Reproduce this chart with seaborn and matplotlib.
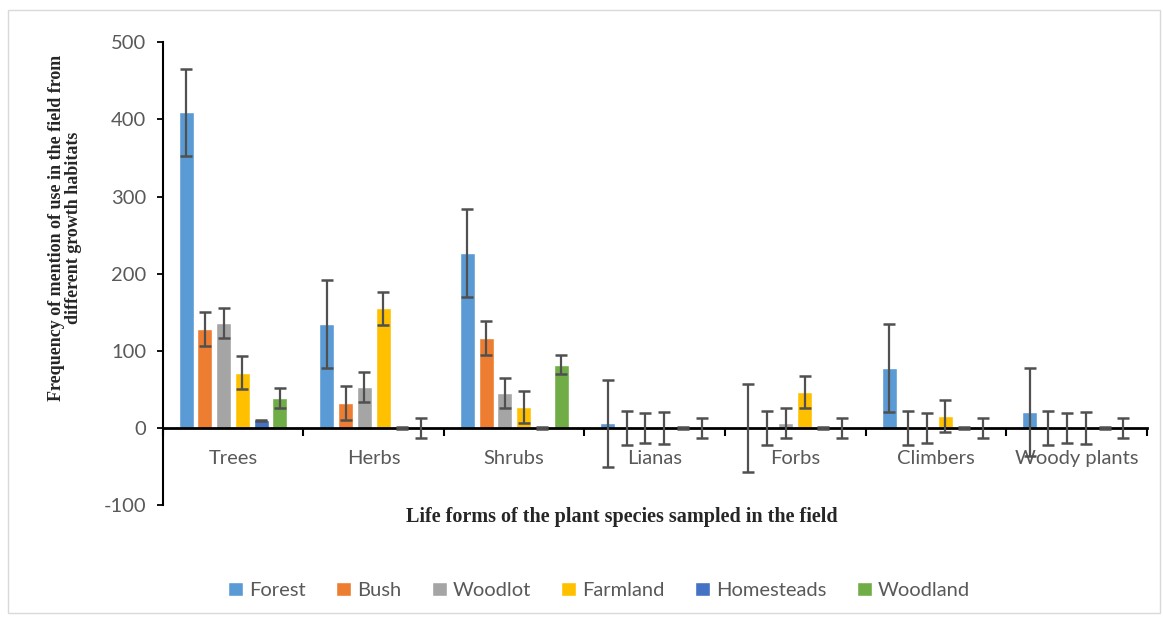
import numpy as np
import pandas as pd
import matplotlib
matplotlib.use("Agg")
import matplotlib.pyplot as plt
import seaborn as sns
from matplotlib.patches import Rectangle

# ---------------------------------------------------------------
# data
# ---------------------------------------------------------------
life_forms = ["Trees", "Herbs", "Shrubs", "Lianas", "Forbs", "Climbers", "Woody plants"]
habitats = ["Forest", "Bush", "Woodlot", "Farmland", "Homesteads", "Woodland"]

forest = [409, 135, 227, 6, 0, 78, 21]
bush = [128, 32, 117, 0, 0, 0, 0]
woodlot = [136, 53, 45, 0, 7, 0, 0]
farmland = [72, 155, 27, 0, 47, 16, 0]
homesteads = [10, 0, 0, 0, 0, 0, 0]
woodland = [39, 0, 82, 0, 0, 0, 0]

# error per habitat (same for every life form)
err_forest = 56.5
err_bush = 22
err_woodlot = 19.5
err_farmland = 21
err_homesteads = 1
err_woodland = 12.5

colors = ["#5B9BD5", "#ED7D31", "#A5A5A5", "#FFC000", "#4472C4", "#70AD47"]

series = [forest, bush, woodlot, farmland, homesteads, woodland]
errors = [err_forest, err_bush, err_woodlot, err_farmland, err_homesteads, err_woodland]

rows = []
for h, vals in zip(habitats, series):
    for lf, v in zip(life_forms, vals):
        rows.append({"life_form": lf, "habitat": h, "value": v})
df = pd.DataFrame(rows)

# ---------------------------------------------------------------
# plot
# ---------------------------------------------------------------
sns.set_style("white")
plt.rcParams["font.family"] = ["Lato", "DejaVu Sans"]
plt.rcParams["axes.unicode_minus"] = False

fig = plt.figure(figsize=(11.63, 6.2), dpi=100)
ax = fig.add_axes([0.140, 0.185, 0.846, 0.747])

sns.barplot(data=df, x="life_form", y="value", hue="habitat",
            order=life_forms, hue_order=habitats, palette=colors,
            errorbar=None, gap=0.2, width=0.8, saturation=1,
            legend=True, ax=ax)

for cont, err in zip(ax.containers, errors):
    xs = [p.get_x() + p.get_width() / 2 for p in cont]
    ys = [p.get_height() for p in cont]
    ax.errorbar(xs, ys, yerr=err, fmt="none", ecolor="#505050",
                elinewidth=1.6, capsize=4.5, capthick=1.8, zorder=5)

ax.set_ylim(-100, 500)
ax.set_xlim(-0.5, len(life_forms) - 0.5)
ax.set_yticks(range(-100, 501, 100))
ax.tick_params(axis="y", labelsize=14.5, labelcolor="#595959", length=4,
               direction="out", width=1.3, color="black", left=True, pad=8)

# category axis at zero
ax.spines["bottom"].set_position(("data", 0))
for s in ["top", "right"]:
    ax.spines[s].set_visible(False)
ax.spines["left"].set_color("black")
ax.spines["left"].set_linewidth(1.5)
ax.spines["bottom"].set_color("black")
ax.spines["bottom"].set_linewidth(2)
ax.set_xticks(np.arange(-0.5, len(life_forms), 1.0), minor=True)
ax.tick_params(axis="x", which="minor", length=6, width=1.5, direction="out",
               color="black", bottom=True)
ax.tick_params(axis="x", which="major", length=0, labelsize=14.5,
               labelcolor="#595959", pad=16)

ax.set_xlabel("")
ax.set_ylabel("")
fig.text(0.056, 0.632, "Frequency of mention of use in the field from\ndifferent growth habitats",
         family=["Liberation Serif"], fontweight="bold", fontsize=13,
         rotation=90, ha="center", va="center", linespacing=1.0)
fig.text(0.535, 0.166, "Life forms of the plant species sampled in the field",
         family=["Liberation Serif"], fontweight="bold", fontsize=14.5,
         ha="center", va="center")

handles, labels = ax.get_legend_handles_labels()
ax.get_legend().remove()
leg = fig.legend(handles, labels, loc="center", bbox_to_anchor=(0.515, 0.048),
                 ncol=6, frameon=False, fontsize=14.5, handlelength=0.75,
                 handleheight=0.75, handletextpad=0.3, columnspacing=1.5)
for t in leg.get_texts():
    t.set_color("#595959")

# light frame around the chart area
fig.patches.append(Rectangle((0.007, 0.012), 0.99, 0.972, transform=fig.transFigure,
                             fill=False, edgecolor="#D9D9D9", linewidth=1))

fig.savefig("out.png", dpi=100)
